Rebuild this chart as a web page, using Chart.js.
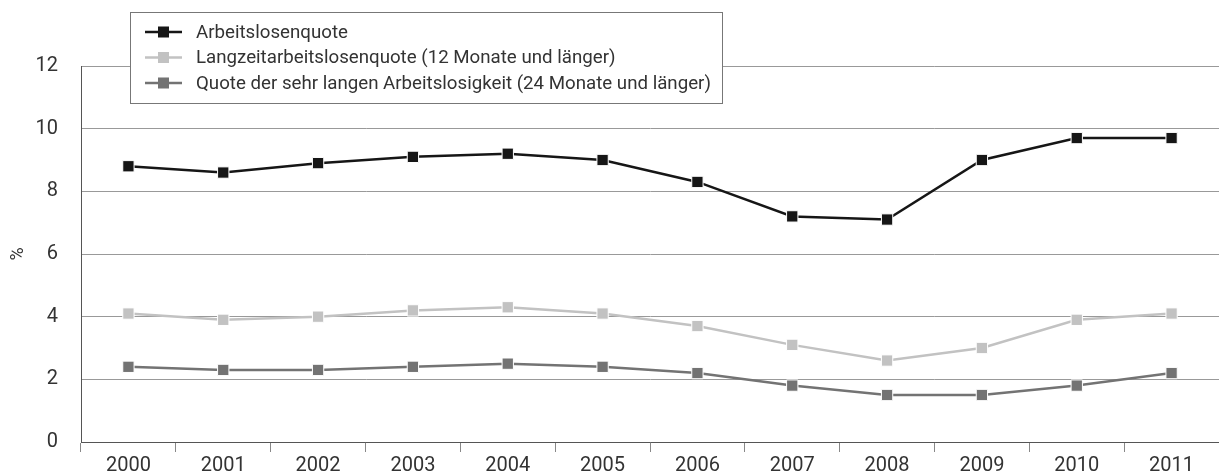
<!DOCTYPE html>
<html>
<head>
<meta charset="utf-8">
<script src="https://cdn.jsdelivr.net/npm/chart.js@4/dist/chart.umd.min.js"></script>
<style>
  html, body { margin: 0; padding: 0; background: #fff; }
  #wrap { width: 1219px; height: 472px; position: relative; }
</style>
</head>
<body>
<div id="wrap"><canvas id="myChart"></canvas></div>
<script>
const years = ['2000','2001','2002','2003','2004','2005','2006','2007','2008','2009','2010','2011'];
const arbeitslosenquote = [8.8, 8.6, 8.9, 9.1, 9.2, 9.0, 8.3, 7.2, 7.1, 9.0, 9.7, 9.7];
const langzeitQuote = [4.1, 3.9, 4.0, 4.2, 4.3, 4.1, 3.7, 3.1, 2.6, 3.0, 3.9, 4.1];
const sehrLangeQuote = [2.4, 2.3, 2.3, 2.4, 2.5, 2.4, 2.2, 1.8, 1.5, 1.5, 1.8, 2.2];
const seriesNames = [
    'Arbeitslosenquote',
    'Langzeitarbeitslosenquote (12 Monate und länger)',
    'Quote der sehr langen Arbeitslosigkeit (24 Monate und länger)'
];
const seriesColors = ['#161616', '#c2c2c2', '#737373'];

const FONT = 'Roboto';

const makeSet = (label, data, color) => {
    return {
        label: label,
        data: data,
        borderColor: color,
        backgroundColor: color,
        borderWidth: 2.5,
        pointStyle: 'rect',
        pointRadius: 8,
        pointHoverRadius: 8,
        pointBorderColor: '#ffffff',
        pointBorderWidth: 1,
        tension: 0
    }
}

// legend box drawn on canvas, above the plot
const boxLegend = {
    id: 'boxLegend',
    afterDraw(chart) {
        const ctx = chart.ctx;
        ctx.save();
        ctx.fillStyle = '#ffffff';
        ctx.fillRect(130, 12, 592, 91);
        ctx.strokeStyle = '#777777';
        ctx.lineWidth = 1;
        ctx.strokeRect(130.5, 12.5, 592, 91);
        chart.data.datasets.forEach((ds, i) => {
            const y = 32 + i * 25.5;
            ctx.strokeStyle = ds.borderColor;
            ctx.lineWidth = 2.5;
            ctx.beginPath();
            ctx.moveTo(145, y);
            ctx.lineTo(182, y);
            ctx.stroke();
            ctx.fillStyle = ds.borderColor;
            ctx.fillRect(158, y - 5.5, 11, 11);
            ctx.fillStyle = '#333333';
            ctx.font = '18.7px ' + FONT;
            ctx.textBaseline = 'middle';
            ctx.textAlign = 'left';
            ctx.fillText(ds.label, 196, y + 1);
        });
        ctx.restore();
    }
}

const ctx = document.getElementById('myChart');

new Chart(ctx, {
    type: 'line',
    data: {
        labels: years,
        datasets: [
            makeSet(seriesNames[0], arbeitslosenquote, seriesColors[0]),
            makeSet(seriesNames[1], langzeitQuote, seriesColors[1]),
            makeSet(seriesNames[2], sehrLangeQuote, seriesColors[2])
        ]
    },
    options: {
        responsive: true,
        maintainAspectRatio: false,
        animation: false,
        layout: { autoPadding: false, padding: { top: 66, right: 0, bottom: 0, left: 0 } },
        plugins: {
            legend: { display: false },
            tooltip: { enabled: false }
        },
        scales: {
            x: {
                offset: true,
                grid: {
                    offset: true,
                    drawOnChartArea: false,
                    drawTicks: true,
                    tickLength: 10,
                    color: '#888888'
                },
                border: { color: '#555555', width: 1 },
                ticks: {
                    color: '#333333',
                    font: { family: FONT, size: 20, lineHeight: 1 },
                    padding: 4,
                    maxRotation: 0
                },
                afterFit(scale) {
                    scale.height = 30;
                }
            },
            y: {
                min: 0,
                max: 12,
                ticks: {
                    stepSize: 2,
                    color: '#333333',
                    font: { family: FONT, size: 20 },
                    padding: 0
                },
                grid: {
                    color: '#999999',
                    drawTicks: true,
                    tickLength: 23,
                    tickColor: 'rgba(0,0,0,0)'
                },
                border: { color: '#555555', width: 1 },
                title: {
                    display: true,
                    text: '%',
                    color: '#333333',
                    font: { family: FONT, size: 18 },
                    padding: { top: 8, bottom: 0 }
                },
                afterFit(scale) {
                    scale.width = 81;
                }
            }
        }
    },
    plugins: [boxLegend]
});
</script>
</body>
</html>
